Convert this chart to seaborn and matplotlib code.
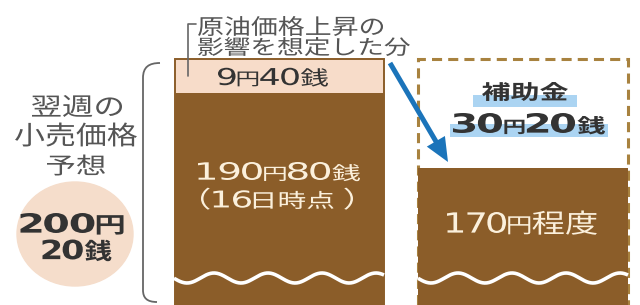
import numpy as np
import matplotlib
matplotlib.use("Agg")
import matplotlib.pyplot as plt
import seaborn as sns
from matplotlib.patches import Ellipse, Rectangle, FancyArrow, PathPatch
from matplotlib.path import Path
from matplotlib.patheffects import AbstractPathEffect
from matplotlib.transforms import Affine2D
from matplotlib.textpath import TextPath
from matplotlib.font_manager import FontProperties

# ---------------- data ----------------
categories = ["16日時点", "補助金後"]
base_price = [190.8, 170.0]          # 190円80銭 / 170円程度
extra_price = [9.4, 30.2]            # 原油上昇分 9円40銭 / 補助金 30円20銭
forecast_total = [b + e for b, e in zip(base_price, extra_price)]  # 200円20銭

# ---------------- style ----------------
BROWN = "#8B5D29"
PINK = "#F7DCC9"
PEACH = "#F5DDCB"
DASH = "#A8823F"
CREAM = "#FBF0DC"
DARK = "#333333"
GRAY = "#555555"
BLUE = "#1B74BA"
HILITE = "#ABD4F2"

sns.set_theme(style="white")
plt.rcParams["font.family"] = ["DejaVu Sans", "Noto Sans CJK JP"]

W, H = 640, 305
fig = plt.figure(figsize=(6.4, 3.05), dpi=100)
fig.patch.set_facecolor("white")

# ---------------- bars (seaborn) ----------------
ax = fig.add_axes([0, 0, 1, 1])
sns.barplot(x=categories, y=forecast_total, hue=categories,
            palette=[PINK, "white"], width=0.86, saturation=1,
            legend=False, ax=ax)
n_tot = len(ax.patches)
sns.barplot(x=categories, y=base_price, color=BROWN, width=0.86,
            saturation=1, ax=ax)

tot_patches = sorted(ax.patches[:n_tot], key=lambda p: p.get_x())
base_patches = ax.patches[n_tot:]
tot_patches[0].set_edgecolor(BROWN)
tot_patches[0].set_linewidth(1.4)
tot_patches[1].set_facecolor("white")
tot_patches[1].set_edgecolor(DASH)
tot_patches[1].set_linewidth(2.2)
tot_patches[1].set_linestyle((0, (3.3, 2.0)))
for p in base_patches:
    p.set_linewidth(0)
    p.set_zorder(3)

ax.set_xlim(-1.148, 1.4805)
ax.set_ylim(131.9, 216.6)
ax.axis("off")

# ---------------- overlay in pixel coords ----------------
ov = fig.add_axes([0, 0, 1, 1])
ov.set_xlim(0, W)
ov.set_ylim(H, 0)
ov.axis("off")

FAM = {"L": "DejaVu Sans", "J": "Noto Sans CJK JP"}
DGAP = 7.0


class GlyphLayout(AbstractPathEffect):
    """Draws the text's own characters with newspaper-style (flattened,
    mixed-size) proportions, anchored at the text position."""

    def __init__(self, path, anchor):
        super().__init__()
        self.path = path
        self.anchor = anchor

    def draw_path(self, renderer, gc, tpath, affine, rgbFace=None):
        t = Affine2D().translate(*self.anchor)
        renderer.draw_path(gc, self.path, t, rgbFace)


def D(s, w="bold", size=100, gap=6.0, xs=1.0):
    return (s, size, "L", xs, gap, w)


def J(s, size=100, w="normal", gap=6.0, xs=0.95):
    return (s, size, "J", xs, gap, w)


def build(pieces):
    x = 0.0
    vs, cs = [], []
    dig = None
    for s, size, fam, xs, gap, w in pieces:
        fp = FontProperties(family=FAM[fam], weight=w)
        if fam == "L":
            w0 = TextPath((0, 0), "0", size=size, prop=fp).get_extents().width
            for i, ch in enumerate(s):
                tp = TextPath((0, 0), ch, size=size, prop=fp)
                ext = tp.get_extents()
                v = tp.vertices.copy()
                if ch == "1":
                    off = (w0 - ext.width) * 0.3
                    v[:, 0] = (v[:, 0] - ext.x0 + off) * xs + x
                    adv = w0 * xs
                else:
                    v[:, 0] = (v[:, 0] - ext.x0) * xs + x
                    adv = ext.width * xs
                x += adv + (DGAP if i < len(s) - 1 else gap)
                vs.append(v)
                cs.append(tp.codes)
                if dig is None:
                    dig = [ext.y0, ext.y1]
                else:
                    dig = [min(dig[0], ext.y0), max(dig[1], ext.y1)]
        else:
            tp = TextPath((0, 0), s, size=size, prop=fp)
            ext = tp.get_extents()
            v = tp.vertices.copy()
            v[:, 0] = (v[:, 0] - ext.x0) * xs + x
            x += ext.width * xs + gap
            vs.append(v)
            cs.append(tp.codes)
    return Path(np.vstack(vs), np.concatenate(cs)), dig


def label(cx, cy, s, pieces, width, height, color=DARK, weight="normal"):
    """width: ink width in px; height: digit height (or ink height if no digits)."""
    p, dig = build(pieces)
    ext = p.get_extents()
    if dig is None:
        y0, y1 = ext.y0, ext.y1
    else:
        y0, y1 = dig
    v = p.vertices.copy()
    v[:, 0] = (v[:, 0] - (ext.x0 + ext.x1) / 2) * width / ext.width
    v[:, 1] = (v[:, 1] - (y0 + y1) / 2) * height / (y1 - y0)
    path = Path(v, p.codes)
    t = ov.text(cx, cy, s, fontsize=height * 0.62, color=color,
                fontweight=weight, ha="center", va="center", zorder=6)
    anchor = ov.transData.transform((cx, cy))
    t.set_path_effects([GlyphLayout(path, anchor)])
    return t


def cjk(s, w="normal"):
    return [J(s, 100, w, xs=1.0)]


# wave breaks
for x0, x1 in [(174, 384), (418, 628)]:
    xs = np.linspace(x0, x1, 300)
    ys = 278 - 5 * np.cos(2 * np.pi * (xs - x0 - 40) / 54)
    ov.plot(xs, ys, color="white", lw=2.6, zorder=4, solid_capstyle="butt")

# left bracket
verts = [(160, 63), (149, 63), (143, 67), (143, 78),
         (143, 290), (143, 298), (147, 302), (157, 302)]
codes = [Path.MOVETO, Path.CURVE4, Path.CURVE4, Path.CURVE4,
         Path.LINETO, Path.CURVE4, Path.CURVE4, Path.CURVE4]
ov.add_patch(PathPatch(Path(verts, codes), fill=False, ec="#666666", lw=1.3, zorder=4))

# annotation bracket
ov.plot([196, 188, 188], [24, 24, 76], color="#666666", lw=1.2, zorder=5)

# circle
ov.add_patch(Ellipse((75, 234), 116, 104, color=PEACH, zorder=2))

# highlight bands
ov.add_patch(Rectangle((473, 95), 104, 12, color=HILITE, zorder=5, lw=0))
ov.add_patch(Rectangle((450, 124), 158, 13, color=HILITE, zorder=5, lw=0))

# arrow
ov.add_patch(FancyArrow(390, 63, 58, 99, width=5, head_width=21, head_length=24,
                        length_includes_head=True, color=BLUE, lw=0, zorder=5))

# ---------------- texts ----------------
label(77, 106, "翌週の", cjk("翌週の"), 90, 22, GRAY)
label(76, 134.5, "小売価格", cjk("小売価格"), 122, 24, GRAY)
label(76, 165, "予想", cjk("予想"), 58, 21, GRAY)

label(72, 223, "200円", [D("200"), J("円", 84, "bold")], 103, 20, DARK, "bold")
label(77, 249.5, "20銭", [D("20"), J("銭", 86, "bold")], 69, 20, DARK, "bold")

ann1 = "原油価格上昇の"
ann2 = "影響を想定した分"
label(198 + 185 / 2, 26, ann1, cjk(ann1), 185, 20, GRAY)
label(198 + 212 / 2, 46.5, ann2, cjk(ann2), 212, 19, GRAY)

label(273, 76.5, "9円40銭",
      [D("9", "normal"), J("円", 75), D("40", "normal"), J("銭", 86)],
      110, 17.5, DARK)
label(279, 171, "190円80銭",
      [D("190", "normal"), J("円", 70), D("80", "normal"), J("銭", 78)],
      162, 18, CREAM)
label(277, 199, "（16日時点）",
      [J("（", 100, gap=8), D("16", "normal", gap=8), J("日時点", 85, gap=30),
       J("）", 100)], 152, 17.5, CREAM)

label(525, 91.5, "補助金", cjk("補助金", "bold"), 86, 19, DARK, "bold")
label(529, 123, "30円20銭",
      [D("30"), J("円", 62, "bold"), D("20"), J("銭", 74, "bold")],
      152, 20, DARK, "bold")
label(522, 222.5, "170円程度",
      [D("170", "normal"), J("円", 76), J("程度", 95)], 150, 21, CREAM)

fig.savefig("out.png", dpi=100, facecolor="white")
